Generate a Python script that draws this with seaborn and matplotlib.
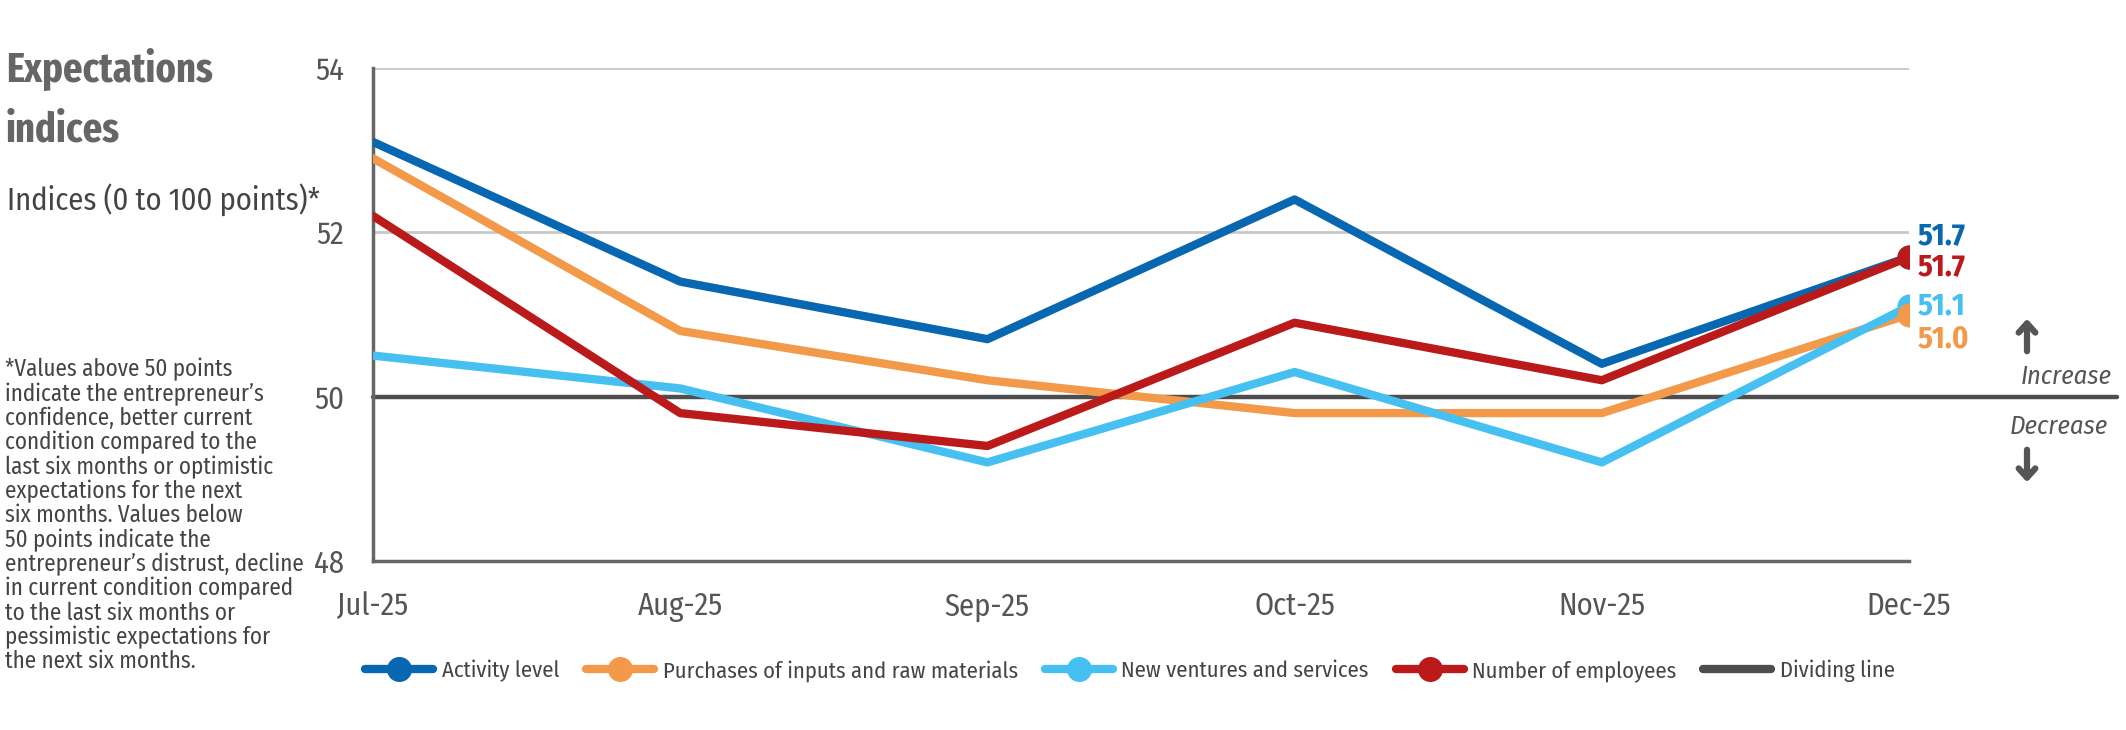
import matplotlib
matplotlib.use("Agg")
import matplotlib.pyplot as plt
import seaborn as sns
import pandas as pd
from matplotlib.lines import Line2D

months = ["Jul-25", "Aug-25", "Sep-25", "Oct-25", "Nov-25", "Dec-25"]
activity = [53.1, 51.4, 50.7, 52.4, 50.4, 51.7]
purchases = [52.9, 50.8, 50.2, 49.8, 49.8, 51.0]
ventures = [50.5, 50.1, 49.2, 50.3, 49.2, 51.1]
employees = [52.2, 49.8, 49.4, 50.9, 50.2, 51.7]
divider = 50

names = ["Activity level", "Purchases of inputs and raw materials",
         "New ventures and services", "Number of employees"]
colors = ["#0767b1", "#f39a4a", "#45c0f0", "#bb1a1a"]
gray = "#555555"

sns.set_theme(style="white")
fam = ["Fira Sans Condensed", "Fira Sans", "DejaVu Sans"]
plt.rcParams["font.family"] = fam

rows = []
for n, vals in zip(names, [activity, purchases, ventures, employees]):
    for m, v in zip(months, vals):
        rows.append({"month": m, "value": v, "series": n})
df = pd.DataFrame(rows)

fig = plt.figure(figsize=(21.26, 7.3), dpi=100)
ax = fig.add_axes([373 / 2126, 1 - 561 / 730, (1909 - 373) / 2126, (561 - 68) / 730])

# gridlines
for g in [52, 54]:
    ax.axhline(g, color="#c8c8c8", lw=2, zorder=0)
ax.plot([0, 1.1355], [divider, divider], color="#4d4d4d", lw=3.2,
        transform=ax.get_yaxis_transform(), clip_on=False, zorder=1)

sns.lineplot(data=df, x="month", y="value", hue="series", hue_order=names,
             palette=colors, linewidth=6, legend=False, ax=ax, zorder=3)

# end markers, orange on top of light blue
last = df[df["month"] == months[-1]]
for i in [0, 2, 1, 3]:
    r = last[last["series"] == names[i]]
    ax.scatter(r["month"], r["value"], s=300, color=colors[i], zorder=4, linewidths=0)

for i, vals in enumerate([activity, purchases, ventures, employees]):
    dy = [15, -18, 0, -7][i]
    ax.annotate(f"{vals[-1]:.1f}", (5, vals[-1]), xytext=(6, dy),
                textcoords="offset points", color=colors[i], fontsize=22,
                fontweight="bold", va="center", ha="left")

ax.set_xlim(0, 5)
ax.set_ylim(48, 54)
ax.set_yticks([48, 50, 52, 54])
ax.set_xlabel("")
ax.set_ylabel("")
for s in ["top", "right"]:
    ax.spines[s].set_visible(False)
for s in ["left", "bottom"]:
    ax.spines[s].set_color("#666666")
    ax.spines[s].set_linewidth(2.5)
ax.tick_params(axis="both", colors="#666666", labelcolor=gray, length=7, width=2.5,
               labelsize=22, direction="out")
ax.tick_params(axis="y", pad=14)
ax.tick_params(axis="x", pad=15)

# increase / decrease
ax.annotate("", xy=(2027 / 2126, 1 - 316 / 730), xytext=(2027 / 2126, 1 - 354 / 730),
            xycoords="figure fraction",
            arrowprops=dict(arrowstyle="->,head_length=0.55,head_width=0.5", color=gray,
                            lw=4.5, capstyle="round"))
ax.annotate("", xy=(2027 / 2126, 1 - 485 / 730), xytext=(2027 / 2126, 1 - 447 / 730),
            xycoords="figure fraction",
            arrowprops=dict(arrowstyle="->,head_length=0.55,head_width=0.5", color=gray,
                            lw=4.5, capstyle="round"))
fig.text(2112 / 2126, 1 - 377 / 730, "Increase", ha="right", va="center",
         fontsize=19, style="italic", color=gray)
fig.text(2108 / 2126, 1 - 427 / 730, "Decrease", ha="right", va="center",
         fontsize=19, style="italic", color=gray)

# titles and notes
fig.text(6 / 2126, 1 - 48 / 730, "Expectations\nindices", ha="left", va="top",
         fontsize=30, fontweight="bold", color="#666666", linespacing=1.58,
         family=["Fira Sans Extra Condensed", "Fira Sans Condensed", "DejaVu Sans"])
fig.text(7 / 2126, 1 - 200 / 730, "Indices (0 to 100 points)*", ha="left", va="center",
         fontsize=22, color="#444444")
note = ("*Values above 50 points\nindicate the entrepreneur\u2019s\nconfidence, better current\n"
        "condition compared to the\nlast six months or optimistic\nexpectations for the next\n"
        "six months. Values below\n50 points indicate the\nentrepreneur\u2019s distrust, decline\n"
        "in current condition compared\nto the last six months or\n"
        "pessimistic expectations for\nthe next six months.")
fig.text(5 / 2126, 1 - 358 / 730, note, ha="left", va="top", fontsize=16.6,
         color="#444444", linespacing=1.06)

handles = [Line2D([0], [0], color=c, lw=6, marker="o", markersize=17) for c in colors]
handles.append(Line2D([0], [0], color="#4d4d4d", lw=6))
fig.legend(handles, names + ["Dividing line"], loc="center", ncol=5,
           bbox_to_anchor=(1130 / 2126, 1 - 671 / 730), frameon=False,
           fontsize=16.3, handlelength=3.0, columnspacing=1.2, handletextpad=0.37,
           labelcolor="#444444")

fig.savefig("out.png", dpi=100)
